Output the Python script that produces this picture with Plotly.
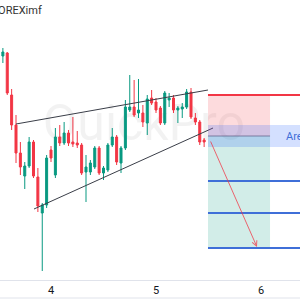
import pandas as pd
import plotly.graph_objects as go

# ---- data (hourly candles, prices in chart units) ----
times = pd.date_range("2023-05-03 12:00", periods=48, freq="h")
opens = [267, 244, 247, 205, 175, 147, 124, 134, 158, 123, 87, 95,
         150, 125, 163, 157, 167, 158, 157, 155, 128, 128, 133, 152,
         127, 130, 155, 163, 137, 152, 190, 193, 187, 187, 177, 202,
         198, 192, 177, 200, 202, 190, 191, 193, 208, 182, 178, 160]
highs = [269, 252, 248, 211, 185, 158, 138, 163, 160, 132, 97, 145,
         154, 172, 175, 178, 170, 183, 169, 157, 145, 140, 154, 154,
         134, 157, 172, 165, 154, 200, 225, 220, 221, 195, 205, 210,
         202, 194, 209, 207, 205, 194, 197, 211, 212, 187, 180, 162]
lows = [248, 237, 205, 170, 137, 125, 111, 132, 122, 88, 29, 92,
        138, 122, 154, 155, 154, 153, 152, 125, 98, 125, 131, 125,
        120, 128, 153, 135, 127, 150, 188, 183, 182, 173, 165, 195,
        187, 175, 175, 193, 187, 177, 182, 191, 181, 175, 155, 153]
closes = [250, 248, 207, 175, 147, 133, 134, 158, 124, 94, 95, 142,
          142, 163, 157, 167, 157, 156, 155, 127, 133, 137, 152, 127,
          132, 155, 163, 138, 152, 193, 193, 185, 190, 178, 201, 197,
          190, 177, 207, 202, 190, 192, 193, 208, 183, 178, 158, 158]

# drawings
upper_line_x = ["2023-05-03 16:00", "2023-05-05 11:53"]
upper_line_y = [176, 210]
lower_line_x = ["2023-05-03 20:07", "2023-05-05 13:02"]
lower_line_y = [91, 172]
pos_start = "2023-05-05 11:53"
pos_end = "2023-05-06 02:04"
far_end = "2023-05-06 16:00"
stop_level = 205
entry_level = 164
target_levels = [119, 87, 52]
area_low, area_high = 153, 175
arrow_from = ("2023-05-05 12:20", 160)
arrow_to = ("2023-05-05 23:05", 53)

GREEN = "#089981"
RED = "#f23645"
BLUE = "#3f6fd8"

fig = go.Figure()
fig.add_trace(go.Candlestick(
    x=times, open=opens, high=highs, low=lows, close=closes,
    increasing=dict(line=dict(color=GREEN, width=1), fillcolor=GREEN),
    decreasing=dict(line=dict(color=RED, width=1), fillcolor=RED),
    whiskerwidth=0, showlegend=False, hoverinfo="skip",
))
fig.add_trace(go.Scatter(x=upper_line_x, y=upper_line_y, mode="lines",
                         line=dict(color="#3a3e48", width=1), showlegend=False))
fig.add_trace(go.Scatter(x=lower_line_x, y=lower_line_y, mode="lines",
                         line=dict(color="#3a3e48", width=1), showlegend=False))

shapes = []
# watermark
shapes.append(dict(type="rect", xref="paper", yref="paper", x0=0.1, x1=0.86, y0=0.45, y1=0.7,
                   line=dict(width=0), fillcolor="rgba(0,0,0,0)", layer="below",
                   label=dict(text="QuickPro", font=dict(size=50, color="rgba(0,0,0,0.05)", family="Roboto"),
                              textposition="middle center")))
shapes.append(dict(type="rect", x0=pos_start, x1=pos_end, y0=entry_level, y1=stop_level,
                   line=dict(width=0), fillcolor="rgba(242,54,69,0.18)"))
shapes.append(dict(type="rect", x0=pos_start, x1=pos_end, y0=target_levels[-1], y1=entry_level,
                   line=dict(width=0), fillcolor="rgba(8,153,129,0.18)"))
shapes.append(dict(type="rect", x0=pos_start, x1=far_end, y0=area_low, y1=area_high,
                   line=dict(width=0), fillcolor="rgba(41,98,255,0.2)"))
shapes.append(dict(type="line", x0=pos_start, x1=pos_end, y0=entry_level, y1=entry_level,
                   line=dict(color="rgba(90,90,130,0.7)", width=1)))
shapes.append(dict(type="line", x0=pos_start, x1=far_end, y0=stop_level, y1=stop_level,
                   line=dict(color=RED, width=2)))
for lv in target_levels:
    shapes.append(dict(type="line", x0=pos_start, x1=far_end, y0=lv, y1=lv,
                       line=dict(color=BLUE, width=2)))
shapes.append(dict(type="line", xref="paper", yref="paper", x0=0, x1=1, y0=-18 / 280, y1=-18 / 280,
                   line=dict(color="#e0e3eb", width=1)))

annotations = [
    dict(x=arrow_to[0], y=arrow_to[1], ax=arrow_from[0], ay=arrow_from[1],
         xref="x", yref="y", axref="x", ayref="y", text="", showarrow=True,
         arrowhead=5, arrowsize=1, arrowwidth=1, arrowcolor="rgba(242,54,69,0.75)"),
    dict(x=44 / 300, y=(280 - 11) / 280, xref="paper", yref="paper", text="FOREXimf",
         showarrow=False, xanchor="right", yanchor="middle",
         font=dict(size=11, color="#333333", family="Roboto")),
    dict(x="2023-05-06 05:15", y=entry_level, xref="x", yref="y", text="Area",
         showarrow=False, xanchor="left", yanchor="middle",
         font=dict(size=11, color=BLUE, family="Roboto")),
]

fig.update_layout(
    width=300, height=300, margin=dict(l=0, r=0, t=0, b=20),
    paper_bgcolor="white", plot_bgcolor="white",
    shapes=shapes, annotations=annotations, boxgap=0.35,
    showlegend=False,
    xaxis=dict(range=["2023-05-03 12:20:34", "2023-05-06 08:54:51"],
               rangeslider=dict(visible=False), showgrid=False, zeroline=False,
               showline=True, linecolor="#e0e3eb", linewidth=1,
               tickformat="%-d", dtick=86400000, tick0="2023-05-04",
               ticks="", tickfont=dict(size=11, color="#131722", family="Roboto")),
    yaxis=dict(range=[20, 300], showgrid=False, zeroline=False, showticklabels=False,
               showline=False),
)

fig.write_html("out.html")
